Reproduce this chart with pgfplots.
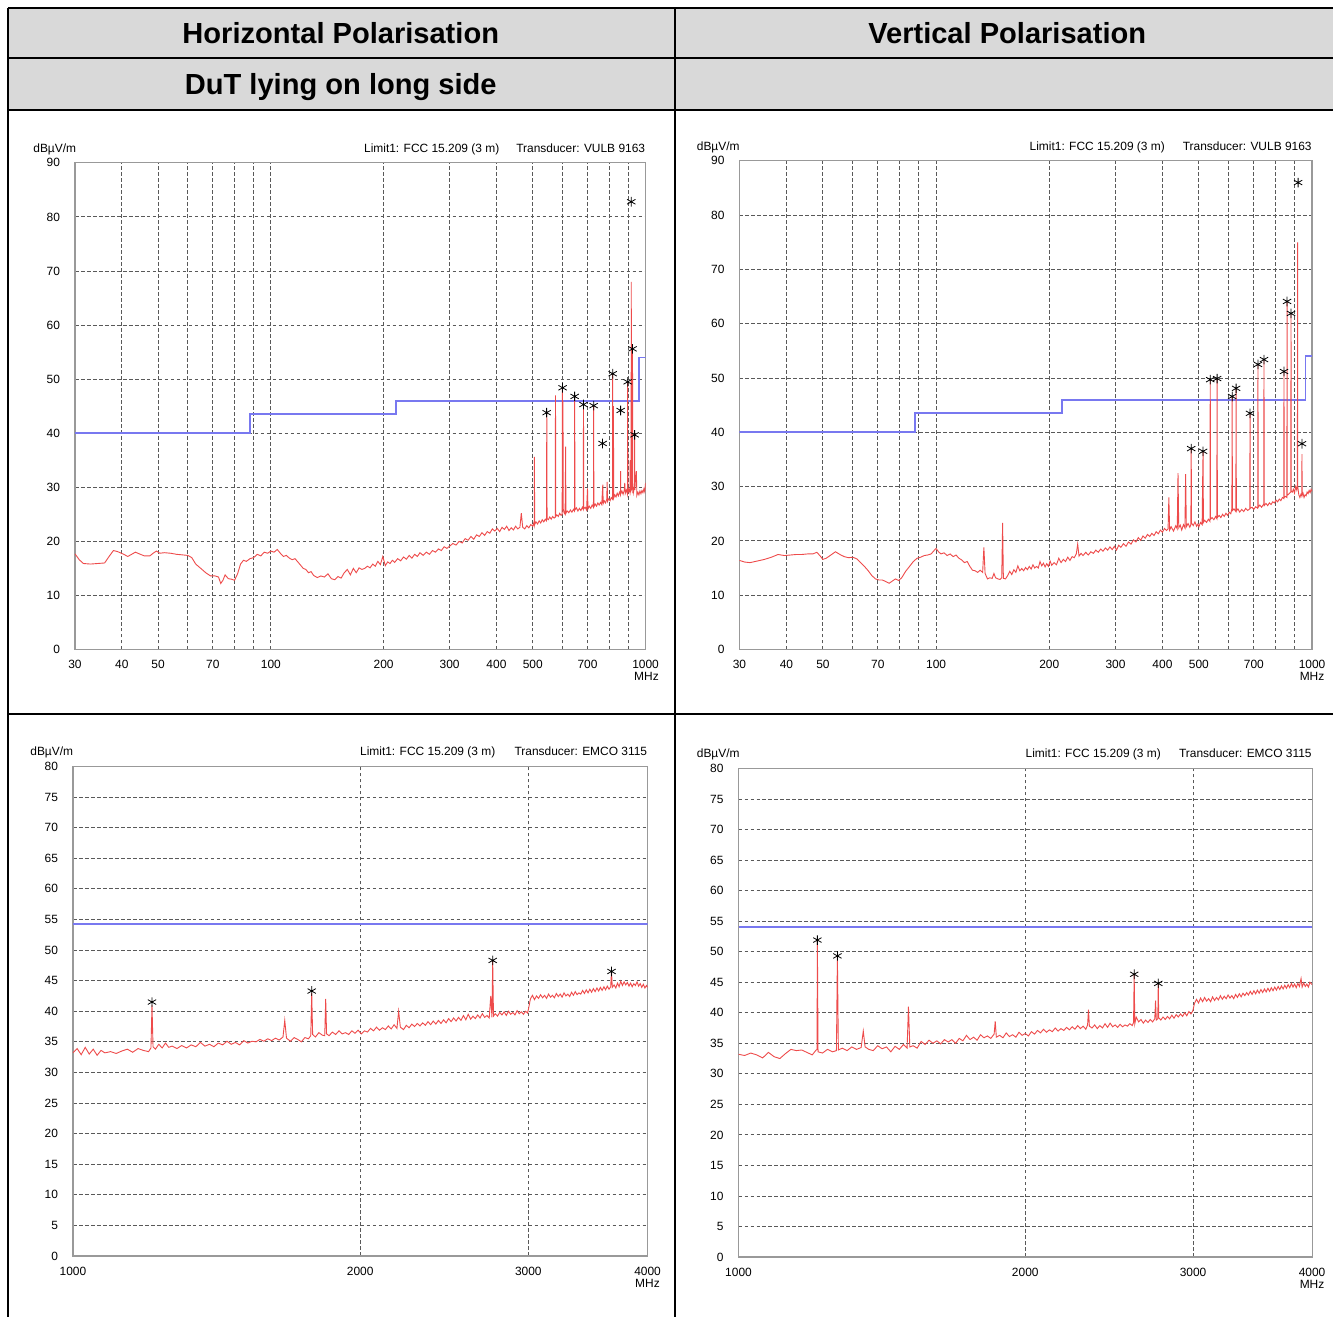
\documentclass[border=0pt]{standalone}
\usepackage{fontspec}
\setmainfont{Liberation Sans}
\usepackage{pgfplots}
\pgfplotsset{compat=1.18}

\definecolor{cellgrey}{RGB}{217,217,217}
\definecolor{tracered}{RGB}{238,75,75}
\definecolor{limitblue}{RGB}{120,120,240}

\newcommand{\lbl}{\fontsize{6}{7}\selectfont}

\pgfplotsset{every axis/.append style={
    scale only axis, clip=true,
    axis line style={draw=black!40, line width=0.6bp},
    major tick length=0pt, minor tick length=0pt,
    grid style={black!65, dash pattern=on 1.8bp off 1.2bp, line width=0.45bp},
    minor grid style={black!65, dash pattern=on 1.8bp off 1.2bp, line width=0.45bp},
    tick label style={font=\lbl},
    yticklabel style={xshift=-4bp},
    xticklabel style={yshift=-2bp},
    /pgf/number format/assume math mode=true}}

\begin{document}
\begin{tikzpicture}

% table, in pixel units of the reference (y upwards)
\begin{scope}[x=0.5bp, y=0.5bp]
  \fill[white] (0,0) rectangle (1334,1318);
  \fill[cellgrey] (8,1208) rectangle (1334,1310);
  \draw[line width=1bp] (8,1310) -- (1334,1310);
  \draw[line width=1bp] (8,1260) -- (1334,1260);
  \draw[line width=1bp] (8,1208) -- (1334,1208);
  \draw[line width=1bp] (8,603) -- (1334,603);
  \draw[line width=1bp] (8,1310) -- (8,0);
  \draw[line width=1bp] (675,1310) -- (675,0);
  \node[anchor=base, font=\fontsize{14.6}{16}\selectfont\bfseries] at (341,1274) {Horizontal Polarisation};
  \node[anchor=base, font=\fontsize{14.6}{16}\selectfont\bfseries] at (1008,1274) {Vertical Polarisation};
  \node[anchor=base, font=\fontsize{14.6}{16}\selectfont\bfseries] at (341,1223) {DuT lying on long side};

  \node[anchor=base west, inner sep=0pt, font=\lbl] at (33,1165) {dBµV/m};
  \node[anchor=base west, inner sep=0pt, font=\lbl] at (364,1165) {Limit1: FCC 15.209 (3 m)};
  \node[anchor=base east, inner sep=0pt, font=\lbl] at (646,1165) {Transducer: VULB 9163};
  \node[anchor=base, inner sep=0pt, font=\lbl] at (647,637) {MHz};

  \node[anchor=base west, inner sep=0pt, font=\lbl] at (697,1167) {dBµV/m};
  \node[anchor=base west, inner sep=0pt, font=\lbl] at (1030,1167) {Limit1: FCC 15.209 (3 m)};
  \node[anchor=base east, inner sep=0pt, font=\lbl] at (1313,1167) {Transducer: VULB 9163};
  \node[anchor=base, inner sep=0pt, font=\lbl] at (1313,637) {MHz};

  \node[anchor=base west, inner sep=0pt, font=\lbl] at (30,562) {dBµV/m};
  \node[anchor=base west, inner sep=0pt, font=\lbl] at (360,562) {Limit1: FCC 15.209 (3 m)};
  \node[anchor=base east, inner sep=0pt, font=\lbl] at (648,562) {Transducer: EMCO 3115};
  \node[anchor=base, inner sep=0pt, font=\lbl] at (648,30) {MHz};

  \node[anchor=base west, inner sep=0pt, font=\lbl] at (697,560) {dBµV/m};
  \node[anchor=base west, inner sep=0pt, font=\lbl] at (1026,560) {Limit1: FCC 15.209 (3 m)};
  \node[anchor=base east, inner sep=0pt, font=\lbl] at (1313,560) {Transducer: EMCO 3115};
  \node[anchor=base, inner sep=0pt, font=\lbl] at (1313,29) {MHz};
\end{scope}

% horizontal, 30-1000 MHz
\begin{axis}[at={(37.5bp,334bp)}, anchor=south west, width=285.5bp, height=243.5bp,
    xmode=log, xmin=30, xmax=1000, ymin=0, ymax=90,
    xtick={30,40,50,70,100,200,300,400,500,700,1000},
    xticklabels={30,40,50,70,100,200,300,400,500,700,1000},
    minor xtick={60,80,90,600,800,900},
    ytick={0,10,...,90}, ymajorgrids, xmajorgrids, xminorgrids]
\addplot[draw=limitblue, line width=0.9bp, no marks] coordinates {(30,40)(88,40)(88,43.5)(216,43.5)(216,46)(960,46)(960,54)(1000,54)};
\addplot[draw=tracered, line width=0.45bp, no marks] coordinates {
(30,17.7)(30.8,16.6)(31.6,15.9)(33,15.8)(34.5,15.9)(36,16.0)(37,17.2)(38,18.3)(39,18.1)(40.5,17.6)
(41.5,17.2)(42.5,17.6)(43.5,18.0)(44.5,17.7)(46,17.3)(47.5,17.3)(48.5,17.8)(49.5,18.2)(50.5,17.8)(52,17.9)
(54,17.8)(56,17.6)(58,17.5)(60,17.4)(61.5,17.0)(63,15.8)(65,15.0)(67,14.2)(69,13.6)(71,13.6)
(72.5,13.4)(73.5,12.2)(74.5,12.8)(75.5,13.8)(77,13.1)(78.5,13.0)(80,12.8)(81.5,14.0)(83,15.8)(84.5,16.5)
(86,16.3)(88,16.8)(90,17.0)(92,17.6)(94,17.3)(96,18.0)(98,17.8)(100,18.2)(102,18.0)(104,18.5)
(106,17.8)(108,17.2)(110,17.4)(112,16.9)(114,16.6)(116,16.8)(118,16.2)(120,15.6)(122,15.0)(124,14.8)
(126,14.2)(128,14.4)(130,13.7)(133,13.3)(136,13.6)(139,13.4)(142,14.0)(145,13.1)(148,12.9)(151,13.5)
(154,13.2)(157,14.2)(160,14.8)(163,13.8)(166,15.0)(169,14.2)(172,15.1)(175,14.8)(178,15.0)(181,15.4)
(184,15.1)(187,15.8)(190,15.4)(193,16.3)(196,15.7)(199,17.2)(202,15.5)(205,16.2)(208,15.9)(211,16.5)
(214,16.1)(218,16.8)(222,16.4)(226,17.1)(230,16.7)(234,17.4)(238,16.9)(242,17.6)(246,17.2)(250,17.9)
(255,17.4)(260,18.0)(265,17.6)(270,18.3)(275,18.0)(280,18.6)(285,18.3)(290,19.0)(295,18.7)(300,19.1)
(306,19.6)(312,19.3)(318,20.0)(324,19.7)(330,20.5)(336,20.2)(342,20.9)(348,20.4)(354,21.2)(360,20.9)
(366,21.6)(372,21.1)(378,21.8)(384,21.5)(390,22.3)(396,21.9)(402,22.4)(408,21.8)(414,22.6)(420,22.2)
(426,22.8)(432,22.0)(438,22.5)(444,22.1)(450,22.8)(456,22.3)(462,22.6)(466,25.2)(470,22.6)(476,22.3)
(482,22.9)(488,22.5)(494,23.1)(500,22.8)(503,23.4)(504.5,23.0)(505,35.6)(506,23.1)(510,23.6)(515,23.2)
(520,23.8)(525,23.4)(530,24.0)(535,23.6)(540,24.1)(544,23.8)(545,44.0)(546,24.2)(550,24.0)(555,24.5)
(560,24.1)(565,24.6)(570,24.3)(574,24.5)(575,47.0)(576,24.6)(580,24.9)(585,24.6)(590,25.2)(595,24.8)
(599,25.0)(600,48.3)(601,30.0)(602,46.0)(603,26.0)(606,25.3)(610,25.0)(612,37.5)(613,25.2)(618,25.6)
(624,25.3)(630,25.8)(636,25.4)(642,25.9)(646,25.6)(647,46.8)(648,25.8)(654,26.2)(660,25.6)(666,26.1)
(672,25.7)(678,26.3)(682,25.9)(683,45.2)(684,26.0)(690,26.3)(696,25.8)(700,29.8)(702,26.0)(708,26.5)
(714,26.1)(720,26.7)(726,26.3)(727,45.0)(728,26.4)(734,26.9)(740,26.5)(746,27.1)(752,26.7)(758,27.2)
(764,26.8)(769,30.5)(771,27.0)(776,27.5)(782,27.1)(788,27.8)(790,31.0)(792,27.4)(798,27.9)(804,27.5)
(810,28.1)(816,27.8)(817,51.0)(818,28.5)(820,29.0)(821,45.0)(822,28.0)(828,28.6)(834,28.2)(840,28.9)
(846,28.4)(852,29.1)(857,28.6)(858,33.0)(859,28.8)(865,29.3)(871,28.7)(877,29.4)(880,30.8)(883,28.9)
(889,29.5)(895,28.7)(896,49.5)(897,28.9)(903,29.6)(909,29.0)(910,35.0)(911,29.2)(915,29.8)(916,68.0)
(917,30.0)(920,29.5)(922,30.5)(923,55.6)(924,31.0)(928,29.0)(934,30.0)(935,40.0)(936,29.5)(940,31.5)
(945,33.0)(948,28.5)(954,29.1)(960,28.6)(966,29.3)(972,28.8)(978,29.4)(984,29.0)(990,29.7)(995,29.2)
(1000,30.8)};
\addplot[only marks, mark=asterisk, mark size=2.4bp, mark options={draw=black, line width=0.4bp}] coordinates {(544.5,43.8)(600.6,48.4)(646.8,46.8)(683,45.3)(727,45.1)(768,38.1)
(817,51.0)(858,44.2)(896,49.5)(923,55.6)(935,39.7)(916,82.8)};
\end{axis}

% vertical, 30-1000 MHz
\begin{axis}[at={(370bp,334bp)}, anchor=south west, width=286.5bp, height=244.5bp,
    xmode=log, xmin=30, xmax=1000, ymin=0, ymax=90,
    xtick={30,40,50,70,100,200,300,400,500,700,1000},
    xticklabels={30,40,50,70,100,200,300,400,500,700,1000},
    minor xtick={60,80,90,600,800,900},
    ytick={0,10,...,90}, ymajorgrids, xmajorgrids, xminorgrids]
\addplot[draw=limitblue, line width=0.9bp, no marks] coordinates {(30,40)(88,40)(88,43.5)(216,43.5)(216,46)(960,46)(960,54)(1000,54)};
\addplot[draw=tracered, line width=0.45bp, no marks] coordinates {
(30,16.4)(31,16.1)(32,16.0)(33.5,16.3)(35,16.6)(36.5,17.0)(38,17.5)(39.5,17.3)(41,17.4)(42.5,17.5)
(44,17.5)(45.5,17.6)(47,17.6)(48.2,17.9)(49.2,17.2)(50,16.6)(51,16.8)(52.5,17.4)(54,18.0)(55.5,17.5)
(57,17.1)(58.5,16.9)(60,17.0)(61.5,16.7)(63,16.0)(64.5,15.3)(66,14.5)(67.5,13.6)(69,13.0)(70.5,12.8)
(72,12.8)(73.5,12.5)(75,12.2)(76.5,12.6)(78,13.0)(79.5,12.7)(81,13.2)(83,14.4)(85,15.3)(87,16.2)
(89,16.8)(91,17.0)(93,17.3)(95,17.4)(97,17.6)(99,18.3)(100,18.6)(101.5,18.0)(103,17.6)(105,17.8)
(107,17.3)(109,17.6)(111,17.1)(113,17.4)(115,16.8)(117,16.5)(119,16.0)(121,16.2)(123,15.3)(125,14.6)
(127,14.5)(129,14.2)(131,14.6)(133,14.2)(134,18.8)(135,14.0)(137,13.0)(139,13.2)(141,13.1)(142.5,14.0)
(144,13.2)(146,13.0)(148,12.9)(149.5,13.2)(150.3,23.3)(151,13.1)(153,13.0)(155,13.6)(157,14.4)(159,13.8)
(161,14.7)(163,14.2)(165,15.4)(167,14.5)(169,14.9)(171,14.5)(173,15.1)(175,14.7)(177,15.3)(179,14.8)
(181,15.6)(183,15.0)(185,15.3)(187,15.0)(189,16.2)(191,15.4)(193,15.9)(195,15.2)(197,15.8)(199,15.3)
(201,16.3)(203,15.5)(206,16.0)(209,15.6)(212,16.8)(215,16.0)(218,16.6)(221,16.2)(224,17.0)(227,16.4)
(230,17.1)(233,16.9)(236,17.6)(238,19.4)(240,17.2)(243,17.7)(246,17.3)(250,17.9)(254,17.4)(258,18.0)
(262,17.7)(266,18.3)(270,17.9)(274,18.5)(278,18.1)(282,18.7)(286,18.3)(290,18.9)(294,18.4)(298,19.0)
(302,18.3)(306,19.2)(310,18.8)(315,19.5)(320,19.0)(325,19.8)(330,19.4)(335,20.2)(340,19.8)(345,20.6)
(350,20.1)(355,20.9)(360,20.5)(365,21.2)(370,20.8)(375,21.4)(380,21.0)(385,21.7)(390,21.3)(395,22.0)
(400,21.6)(405,22.3)(410,21.9)(414,22.2)(416,28.0)(418,22.0)(422,22.6)(428,21.8)(434,22.8)(438,22.2)
(440,32.5)(442,22.4)(446,22.9)(450,22.0)(455,23.0)(459,22.4)(461,32.3)(463,22.6)(468,23.2)(473,22.5)
(476,23.0)(477,37.0)(478,23.3)(483,22.8)(488,23.5)(493,22.7)(497,23.1)(500,22.6)(505,23.4)(510,23.0)
(512,33.0)(513,36.5)(514,23.4)(518,23.8)(524,23.4)(530,24.0)(535,23.6)(536,49.8)(537,24.0)(542,24.3)
(548,23.9)(554,24.5)(558,24.1)(559,49.9)(560,24.3)(566,24.7)(572,24.3)(578,24.9)(584,24.5)(590,25.1)
(596,24.7)(602,25.3)(608,25.0)(612,26.0)(613,46.6)(614,25.6)(620,25.9)(627,25.4)(628,48.1)(629,25.5)
(635,25.9)(642,25.3)(650,25.8)(658,25.4)(666,26.0)(674,25.6)(683,25.9)(684,43.5)(685,26.0)(692,26.2)
(700,25.8)(708,26.3)(717,26.0)(718,52.5)(719,26.2)(726,26.6)(734,26.2)(744,26.8)(745,53.4)(746,26.5)
(754,26.9)(762,26.5)(770,27.0)(778,26.7)(786,27.2)(794,27.0)(802,27.5)(810,27.2)(818,27.7)(826,27.4)
(834,28.0)(841,27.8)(842,51.2)(843,28.0)(850,28.2)(857,28.0)(858,64.1)(859,28.4)(866,28.6)(872,28.8)
(878,29.0)(879,61.9)(880,29.2)(886,29.0)(892,29.5)(898,28.8)(904,30.0)(910,29.4)(914,30.5)(915,75.0)
(916,30.0)(922,28.5)(928,28.0)(934,28.6)(939,28.3)(940,36.0)(941,28.4)(946,28.8)(952,28.0)(958,28.5)
(964,28.3)(970,29.0)(976,28.7)(982,29.3)(988,28.9)(994,29.5)(1000,29.1)};
\addplot[only marks, mark=asterisk, mark size=2.4bp, mark options={draw=black, line width=0.4bp}] coordinates {(477,37.0)(513,36.5)(536,49.7)(559,49.9)(613,46.6)(628,48.1)(684,43.5)
(718,52.5)(745,53.4)(842,51.2)(858,64.1)(879,61.9)(918,86.0)(940,37.9)};
\end{axis}

% horizontal, 1-4 GHz
\begin{axis}[at={(36.5bp,30.5bp)}, anchor=south west, width=287.5bp, height=245bp,
    xmode=log, xmin=1000, xmax=4000, ymin=0, ymax=80,
    xtick={1000,2000,3000,4000}, xticklabels={1000,2000,3000,4000},
    ytick={0,5,...,80}, ymajorgrids, xmajorgrids]
\addplot[draw=limitblue, line width=0.9bp, no marks] coordinates {(1000,54.2)(4000,54.2)};
\addplot[draw=tracered, line width=0.45bp, no marks] coordinates {
(1000,33.2)(1010,33.9)(1020,32.9)(1030,34.1)(1040,33.0)(1050,33.8)(1060,32.8)(1070,33.6)(1080,33.2)(1095,33.4)
(1110,33.1)(1125,33.5)(1140,33.8)(1155,33.3)(1170,33.9)(1185,33.6)(1200,33.4)(1207,34.0)(1210,41.0)(1213,34.2)
(1220,33.8)(1230,34.6)(1240,34.0)(1250,34.8)(1260,34.1)(1270,34.3)(1285,33.9)(1300,34.4)(1315,34.0)(1330,34.5)
(1345,34.2)(1360,34.9)(1375,34.3)(1390,34.6)(1405,34.2)(1420,34.8)(1435,34.5)(1450,35.1)(1465,34.6)(1480,34.9)
(1495,34.5)(1510,35.2)(1525,34.8)(1540,35.1)(1555,35.0)(1570,35.4)(1585,35.1)(1600,35.5)(1615,35.2)(1630,35.6)
(1645,35.3)(1660,35.8)(1667,38.5)(1674,35.6)(1690,35.1)(1705,35.7)(1720,35.4)(1735,35.0)(1750,35.7)(1765,35.5)
(1775,36.0)(1779,43.0)(1783,36.2)(1795,35.8)(1810,36.5)(1825,36.1)(1836,36.0)(1840,42.0)(1844,36.3)(1855,36.0)
(1870,36.6)(1885,36.2)(1900,36.8)(1915,36.3)(1930,36.5)(1945,36.2)(1960,36.8)(1975,36.4)(1990,36.9)(2005,36.3)
(2020,36.8)(2035,36.6)(2050,37.2)(2065,36.8)(2080,37.4)(2095,36.9)(2110,37.3)(2125,37.0)(2140,37.6)(2155,37.1)
(2170,37.8)(2185,37.2)(2194,40.0)(2203,37.4)(2220,37.0)(2235,37.7)(2250,37.3)(2265,37.9)(2280,37.5)(2295,38.0)
(2310,37.6)(2325,38.1)(2340,37.7)(2355,38.3)(2370,37.8)(2385,38.4)(2400,37.9)(2415,38.5)(2430,38.0)(2445,38.6)
(2460,38.1)(2475,38.8)(2490,38.3)(2505,38.9)(2520,38.4)(2535,39.0)(2550,38.5)(2565,39.3)(2580,38.6)(2595,39.5)
(2610,38.7)(2625,39.2)(2640,38.8)(2655,39.4)(2670,38.9)(2685,39.6)(2700,39.0)(2715,39.3)(2730,38.9)(2740,42.5)
(2748,39.0)(2753,48.3)(2758,39.2)(2770,39.6)(2785,39.2)(2800,39.8)(2815,39.4)(2830,39.9)(2845,39.3)(2860,40.0)
(2875,39.5)(2890,39.8)(2905,39.4)(2920,40.1)(2935,39.6)(2950,39.9)(2965,39.5)(2980,40.0)(2995,39.7)(3005,40.8)
(3015,42.0)(3030,42.6)(3045,41.9)(3060,42.5)(3075,42.1)(3090,42.7)(3105,42.2)(3120,42.6)(3135,42.1)(3150,42.8)
(3165,42.3)(3180,42.6)(3195,42.2)(3210,42.9)(3225,42.4)(3240,42.8)(3255,42.3)(3270,43.0)(3285,42.5)(3300,42.8)
(3315,42.4)(3330,43.1)(3345,42.6)(3360,43.2)(3375,42.7)(3390,43.0)(3405,42.8)(3420,43.4)(3435,42.9)(3450,43.5)
(3465,43.0)(3480,43.6)(3495,43.1)(3510,43.7)(3525,43.2)(3540,43.8)(3555,43.3)(3570,43.9)(3585,43.4)(3600,44.0)
(3615,43.5)(3630,44.1)(3645,43.6)(3660,44.0)(3667,46.5)(3674,43.9)(3690,44.3)(3705,43.8)(3720,44.6)(3735,44.0)
(3750,44.9)(3765,44.2)(3780,44.8)(3795,44.3)(3810,44.7)(3825,44.1)(3840,44.6)(3855,44.0)(3870,44.5)(3885,44.2)
(3900,44.8)(3915,44.1)(3930,44.5)(3945,43.9)(3960,44.4)(3975,43.8)(3990,44.2)(4000,43.9)};
\addplot[only marks, mark=asterisk, mark size=2.4bp, mark options={draw=black, line width=0.4bp}] coordinates {(1210,41.5)(1779,43.3)(2753,48.3)(3667,46.5)};
\end{axis}

% vertical, 1-4 GHz
\begin{axis}[at={(369.5bp,30bp)}, anchor=south west, width=287bp, height=244.5bp,
    xmode=log, xmin=1000, xmax=4000, ymin=0, ymax=80,
    xtick={1000,2000,3000,4000}, xticklabels={1000,2000,3000,4000},
    ytick={0,5,...,80}, ymajorgrids, xmajorgrids]
\addplot[draw=limitblue, line width=0.9bp, no marks] coordinates {(1000,54)(4000,54)};
\addplot[draw=tracered, line width=0.45bp, no marks] coordinates {
(1000,33.2)(1015,33.0)(1030,33.4)(1045,33.1)(1060,32.6)(1075,33.5)(1090,32.8)(1105,32.5)(1120,33.3)(1135,34.0)
(1150,33.8)(1165,33.9)(1180,33.5)(1195,33.1)(1205,33.8)(1209,34.0)(1210,51.9)(1212,33.6)(1225,33.4)(1240,34.0)
(1255,33.6)(1267,33.8)(1270,49.3)(1273,33.9)(1285,34.2)(1300,33.8)(1315,34.4)(1330,34.0)(1345,34.3)(1352,37.0)
(1358,34.4)(1370,34.0)(1385,33.8)(1400,34.6)(1415,34.1)(1430,34.4)(1445,33.6)(1460,34.5)(1475,34.0)(1490,34.8)
(1503,34.2)(1508,41.0)(1513,34.4)(1525,34.6)(1540,34.2)(1555,35.3)(1570,34.8)(1585,35.5)(1600,35.0)(1615,35.4)
(1630,34.9)(1645,35.6)(1660,35.2)(1675,35.6)(1690,35.0)(1705,35.8)(1720,35.4)(1735,36.3)(1750,35.6)(1765,36.0)
(1780,35.5)(1795,36.4)(1810,35.9)(1825,36.2)(1840,35.8)(1855,36.5)(1860,38.6)(1865,36.0)(1880,36.3)(1895,35.9)
(1910,36.7)(1925,36.1)(1940,36.4)(1955,36.0)(1970,36.8)(1985,36.3)(2000,36.6)(2015,36.2)(2030,36.9)(2045,36.5)
(2060,37.1)(2075,36.7)(2090,37.3)(2105,36.8)(2120,37.2)(2135,36.9)(2150,37.5)(2165,37.0)(2180,37.4)(2195,37.1)
(2210,37.6)(2225,37.2)(2240,37.7)(2255,37.3)(2270,37.9)(2285,37.4)(2300,37.8)(2315,37.3)(2325,38.0)(2330,40.5)
(2335,37.8)(2350,37.5)(2365,38.0)(2380,37.4)(2395,37.9)(2410,37.5)(2425,38.2)(2440,37.6)(2455,38.3)(2470,37.7)
(2485,38.0)(2500,37.6)(2515,38.1)(2530,37.7)(2545,38.0)(2560,37.8)(2575,38.2)(2590,37.9)(2598,38.4)(2602,46.3)
(2606,38.2)(2615,39.3)(2630,38.5)(2645,38.9)(2660,38.3)(2675,38.8)(2690,38.4)(2705,38.9)(2720,38.5)(2735,39.0)
(2740,42.0)(2745,38.8)(2755,39.0)(2758,44.8)(2761,39.2)(2775,38.8)(2790,39.3)(2805,38.9)(2820,39.4)(2835,39.0)
(2850,39.6)(2865,39.1)(2880,39.7)(2895,39.3)(2910,39.8)(2925,39.4)(2940,40.0)(2955,39.5)(2970,40.2)(2985,39.8)
(2998,40.3)(3010,41.5)(3025,42.2)(3040,41.6)(3055,42.4)(3070,41.8)(3085,42.5)(3100,41.9)(3115,42.3)(3130,41.8)
(3145,42.6)(3160,42.0)(3175,42.5)(3190,42.1)(3205,42.8)(3220,42.2)(3235,42.7)(3250,42.3)(3265,42.9)(3280,42.4)
(3295,42.8)(3310,42.3)(3325,43.0)(3340,42.5)(3355,43.1)(3370,42.6)(3385,43.2)(3400,42.8)(3415,43.3)(3430,42.9)
(3445,43.5)(3460,43.0)(3475,43.6)(3490,43.1)(3505,43.7)(3520,43.2)(3535,43.8)(3550,43.3)(3565,43.9)(3580,43.4)
(3595,44.0)(3610,43.5)(3625,44.1)(3640,43.6)(3655,44.2)(3670,43.7)(3685,44.3)(3700,43.8)(3715,44.4)(3730,43.9)
(3745,44.5)(3760,44.0)(3775,44.6)(3790,44.1)(3805,44.8)(3820,44.2)(3835,44.7)(3850,44.1)(3865,44.8)(3880,44.3)
(3895,45.6)(3905,44.2)(3920,44.9)(3935,44.3)(3950,44.7)(3965,44.2)(3980,45.0)(4000,44.6)};
\addplot[only marks, mark=asterisk, mark size=2.4bp, mark options={draw=black, line width=0.4bp}] coordinates {(1210,51.9)(1270,49.3)(2602,46.3)(2758,44.8)};
\end{axis}

\end{tikzpicture}
\end{document}
